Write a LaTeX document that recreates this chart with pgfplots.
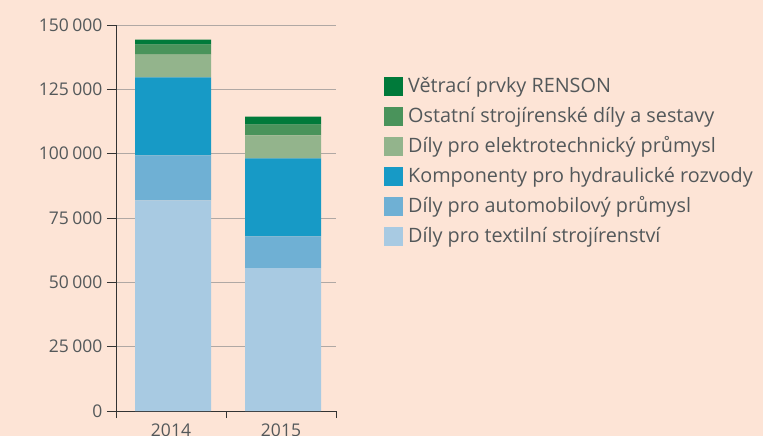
\documentclass[border=0pt]{standalone}
\usepackage{pgfplots}
\pgfplotsset{compat=1.18}
\usepackage{fontspec}
\setmainfont{Open Sans}
\definecolor{bg}{HTML}{FDE4D6}
\definecolor{txt}{HTML}{53585A}
\definecolor{cRenson}{HTML}{007A3A}
\definecolor{cOther}{HTML}{4A935B}
\definecolor{cElectro}{HTML}{93B48C}
\definecolor{cHydr}{HTML}{179AC6}
\definecolor{cAuto}{HTML}{6FB0D4}
\definecolor{cTextile}{HTML}{A8CAE2}
\definecolor{gridc}{HTML}{B0A8A4}
\begin{document}
\begin{tikzpicture}
\fill[bg] (0,0) rectangle (763bp,436bp);
\useasboundingbox (0,0) rectangle (763bp,436bp);
\begin{axis}[
  at={(116bp,25bp)}, anchor=south west,
  scale only axis, width=220bp, height=386bp,
  xmin=0.5, xmax=2.5, ymin=0, ymax=150000,
  ybar stacked, bar width=76bp, bar shift=2bp,
  axis x line*=bottom, axis y line*=left,
  axis line style={draw=black!80, line width=0.9bp},
  xtick={1,2}, xticklabels={2014,2015},
  minor xtick={0.5,1.5,2.5},
  major x tick style={draw=none},
  minor tick length=7bp, major tick length=9bp,
  tick style={draw=black!80, line width=0.9bp},
  tick align=outside,
  scaled y ticks=false,
  ytick={0,25000,50000,75000,100000,125000,150000},
  yticklabels={0,25\hspace{0.2em}000,50\hspace{0.2em}000,75\hspace{0.2em}000,100\hspace{0.2em}000,125\hspace{0.2em}000,150\hspace{0.2em}000},
  ymajorgrids, grid style={draw=gridc, line width=0.9bp},
  tick label style={text=txt, font=\fontsize{17.5bp}{20bp}\selectfont},
  yticklabel style={xshift=-1bp},
  reverse legend,
  legend cell align=left,
  legend image code/.code={\fill[#1,draw=none] (0bp,-9.5bp) rectangle (19bp,9.5bp);},
  legend style={draw=none, fill=none, at={(1.218,0.865)}, anchor=north west,
    font=\fontsize{19.8bp}{24bp}\selectfont, text=txt, row sep=11bp, column sep=5bp,
    inner sep=0pt, nodes={inner sep=0pt, text height=15bp, text depth=4bp}},
  clip=false,
]
\addplot[fill=cTextile, draw=none] coordinates {(1,81800) (2,55500)};
\addplot[fill=cAuto, draw=none] coordinates {(1,17500) (2,12400)};
\addplot[fill=cHydr, draw=none] coordinates {(1,30300) (2,30300)};
\addplot[fill=cElectro, draw=none] coordinates {(1,8900) (2,8900)};
\addplot[fill=cOther, draw=none] coordinates {(1,3900) (2,4200)};
\addplot[fill=cRenson, draw=none] coordinates {(1,1900) (2,3100)};
\legend{Díly pro textilní strojírenství,Díly pro automobilový průmysl,Komponenty pro hydraulické rozvody,Díly pro elektrotechnický průmysl,Ostatní strojírenské díly a sestavy,Větrací prvky RENSON}
\end{axis}
\end{tikzpicture}
\end{document}
